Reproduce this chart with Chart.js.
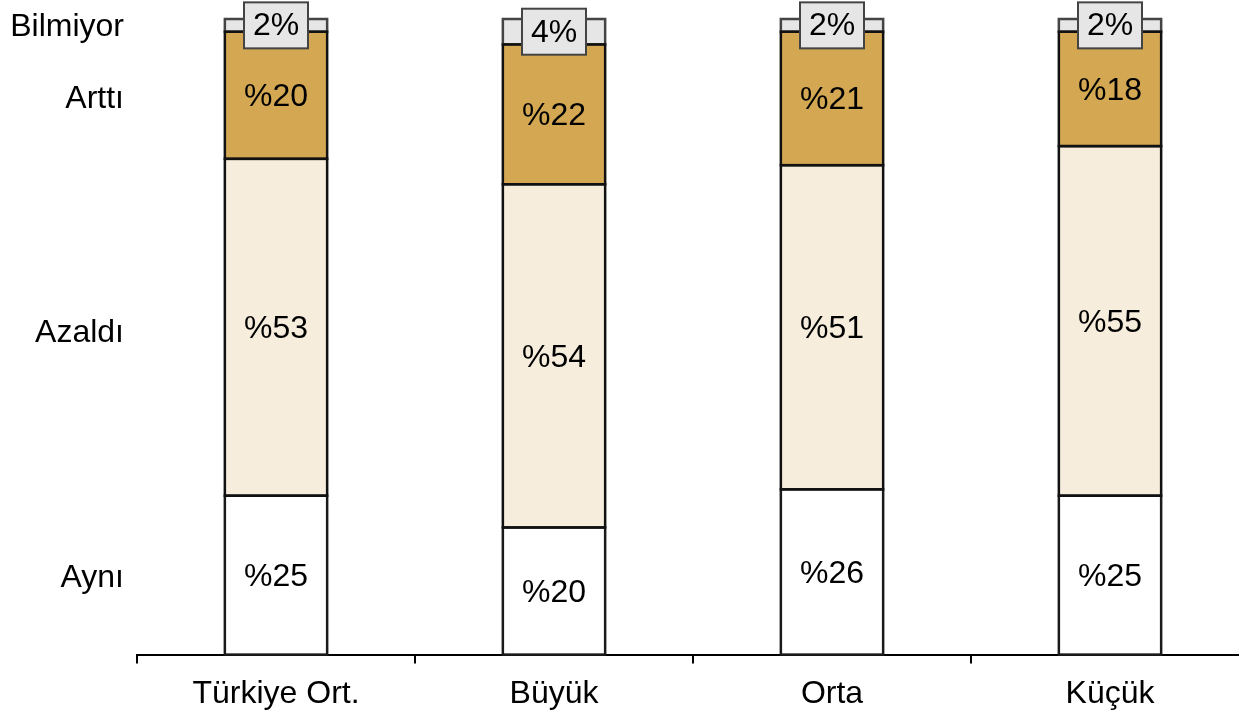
<!DOCTYPE html>
<html><head><meta charset="utf-8">
<script src="https://cdn.jsdelivr.net/npm/chart.js@4.4.0/dist/chart.umd.min.js"></script>
<style>html,body{margin:0;padding:0;overflow:hidden;background:#fff}</style>
</head><body>
<canvas id="c" width="1250" height="714"></canvas>
<script>
const categories = ['Türkiye Ort.', 'Büyük', 'Orta', 'Küçük'];
const seriesNames = ['Aynı', 'Azaldı', 'Arttı', 'Bilmiyor'];
const ayni = [25, 20, 26, 25];
const azaldi = [53, 54, 51, 55];
const artti = [20, 22, 21, 18];
const bilmiyor = [2, 4, 2, 2];
const series = [ayni, azaldi, artti, bilmiyor];

const FONT = '"Liberation Sans", Arial, sans-serif';
const fills = ['#ffffff', '#f6eddd', '#d4a853', '#e6e6e6'];
const borders = ['#1a1a1a', '#111111', '#111111', '#444444'];

const mean = arr => arr.reduce((a, b) => a + b, 0) / arr.length;

const segPlugin = {
  id: 'segLabels',
  afterDatasetsDraw(chart) {
    const ctx = chart.ctx;
    ctx.save();
    [3, 0, 1, 2].forEach(i => {
      const meta = chart.getDatasetMeta(i);
      meta.data.forEach(bar => {
        const p = bar.getProps(['x', 'y', 'base', 'width'], true);
        ctx.strokeStyle = borders[i];
        ctx.lineWidth = 2.5;
        ctx.strokeRect(p.x - p.width / 2, Math.min(p.y, p.base), p.width, Math.abs(p.base - p.y));
      });
    });
    ctx.font = '32px ' + FONT;
    ctx.textAlign = 'center';
    ctx.textBaseline = 'middle';
    chart.data.datasets.forEach((ds, i) => {
      const meta = chart.getDatasetMeta(i);
      meta.data.forEach((bar, j) => {
        const p = bar.getProps(['x', 'y', 'base'], true);
        const cy = (p.y + p.base) / 2;
        const v = ds.data[j];
        if (i === 3) {
          const w = 64, h = 46;
          ctx.fillStyle = '#e6e6e6';
          ctx.strokeStyle = '#444444';
          ctx.lineWidth = 2;
          ctx.fillRect(p.x - w / 2, cy - h / 2, w, h);
          ctx.strokeRect(p.x - w / 2, cy - h / 2, w, h);
          ctx.fillStyle = '#000';
          ctx.fillText(v + '%', p.x, cy + 1);
        } else {
          ctx.fillStyle = '#000';
          ctx.fillText('%' + v, p.x, cy + 2);
        }
      });
    });
    ctx.restore();
  }
};

new Chart(document.getElementById('c'), {
  type: 'bar',
  data: {
    labels: categories,
    datasets: series.map((arr, i) => ({
      label: seriesNames[i],
      data: arr,
      backgroundColor: fills[i],
      borderWidth: 0,
      barPercentage: 0.368,
      categoryPercentage: 1
    }))
  },
  options: {
    responsive: false,
    animation: false,
    layout: { padding: { top: 19, right: 1, bottom: -10, left: 0 } },
    plugins: { legend: { display: false }, tooltip: { enabled: false } },
    scales: {
      x: {
        stacked: true,
        grid: { display: true, drawOnChartArea: false, drawTicks: true, tickLength: 9, color: '#000', lineWidth: 2, offset: true },
        border: { display: true, color: '#000', width: 2 },
        ticks: { color: '#000', font: { size: 32, family: FONT }, padding: 11 }
      },
      y: {
        stacked: true,
        min: 0, max: 100,
        grid: { display: false, drawTicks: false },
        border: { display: false },
        afterBuildTicks(scale) {
          let cum = 0;
          scale.ticks = series.map(arr => {
            const m = mean(arr);
            const v = cum + m / 2;
            cum += m;
            return { value: v };
          });
        },
        afterFit(scale) { scale.width = 137; },
        ticks: {
          color: '#000',
          font: { size: 32, family: FONT, lineHeight: 0.1 },
          padding: 13,
          callback: (v, i) => seriesNames[i]
        }
      }
    }
  },
  plugins: [segPlugin]
});
</script>
</body></html>
